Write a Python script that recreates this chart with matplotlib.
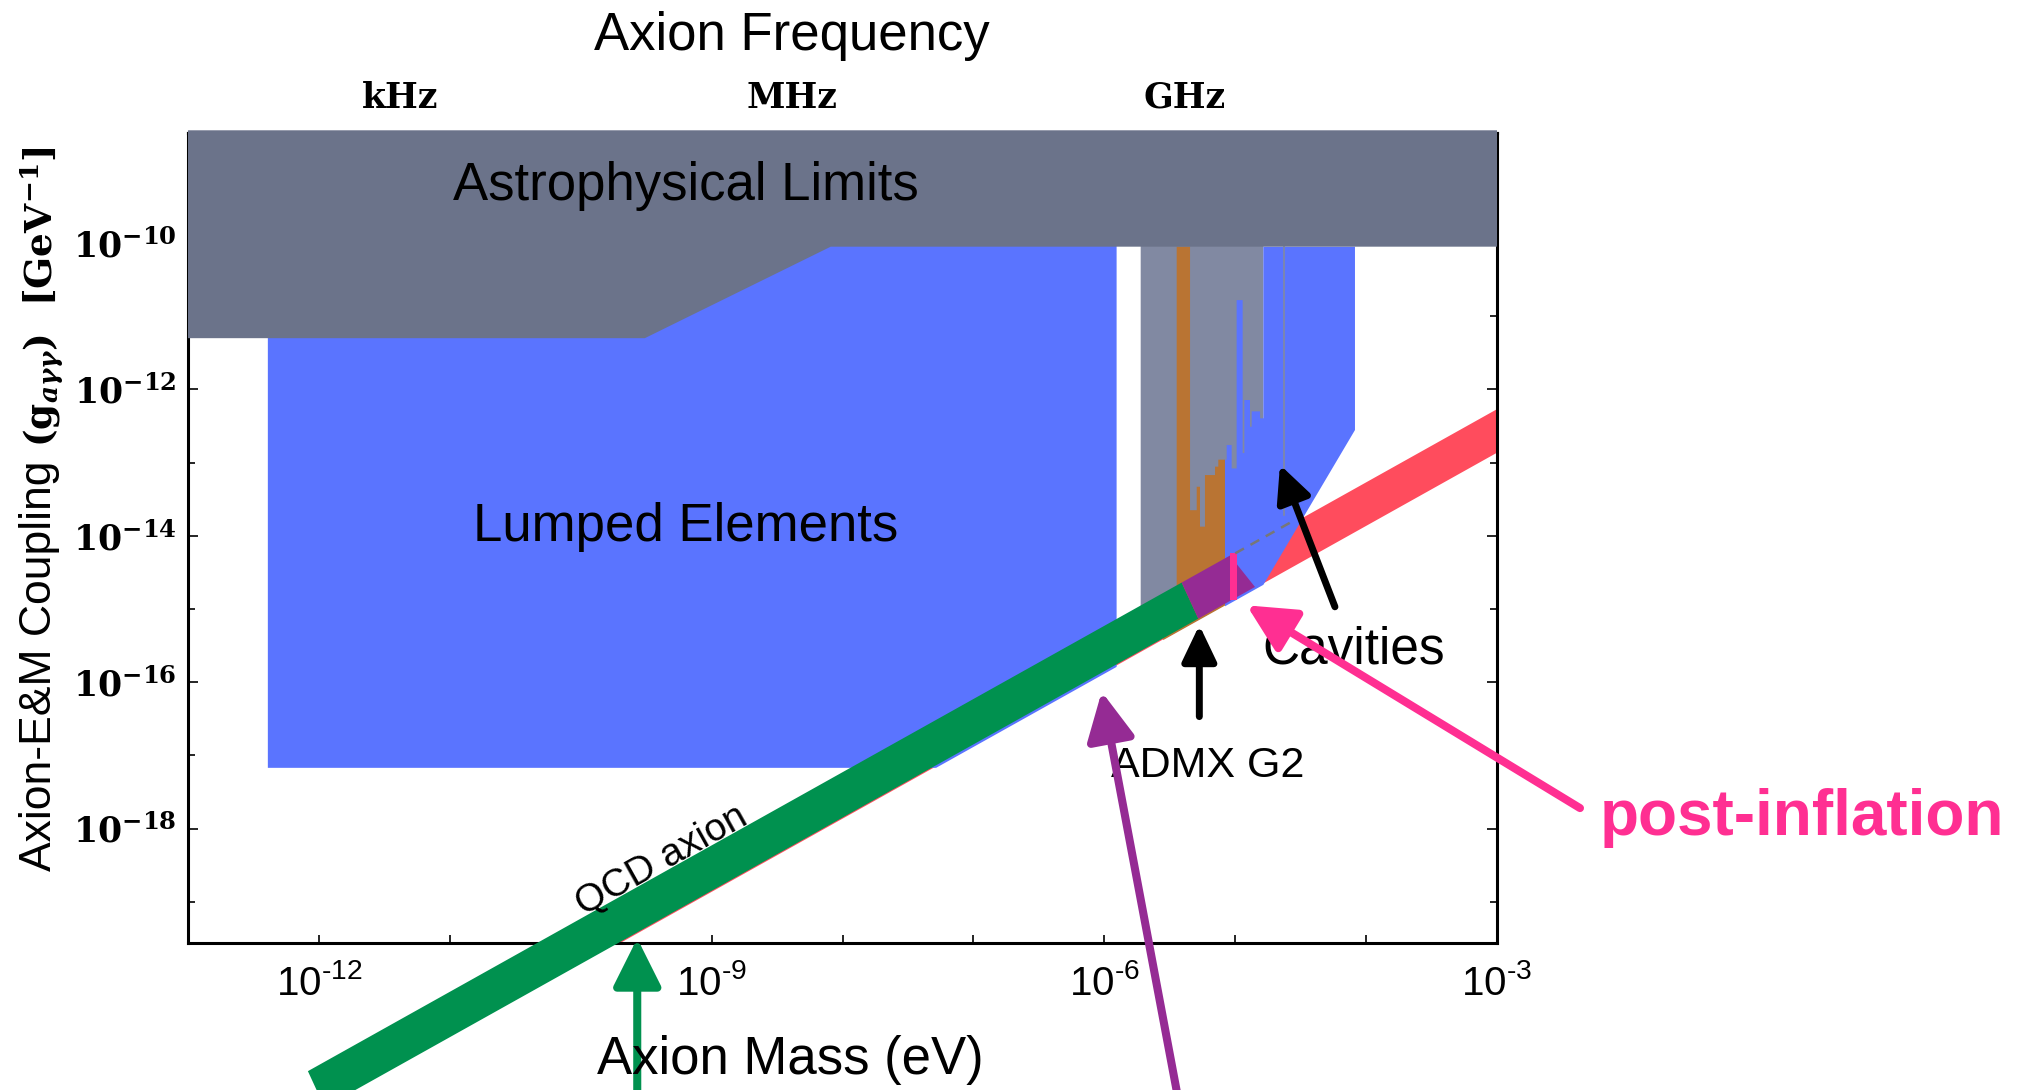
import numpy as np
import matplotlib
matplotlib.use("Agg")
import matplotlib.pyplot as plt

plt.rcParams['font.family'] = ['Liberation Sans', 'DejaVu Sans']
plt.rcParams['mathtext.fontset'] = 'custom'
plt.rcParams['mathtext.rm'] = 'Liberation Sans'
plt.rcParams['mathtext.it'] = 'DejaVu Serif:italic:bold'
plt.rcParams['mathtext.bf'] = 'DejaVu Serif:bold'

# everything below is log10 of mass (eV) / coupling (GeV^-1)
x_lim = (-13.0, -3.0)
y_lim = (-19.563, -8.497)

# QCD band: log g = log m + c
red_c = (-9.865, -9.27)
green_c = (-9.85, -9.23)
green_top_x = (-12.084, -5.409)
green_bot_x = (-11.957, -5.282)

astro_x = [-13.0, -9.51, -8.09, -3.0]
astro_y = [-11.30, -11.30, -10.05, -10.05]
astro_top = -8.46

lumped_x = (-12.39, -5.906)
lumped_floor = -17.17
lumped_c = -9.885

cav_gray_x = (-5.722, -4.785)

admx_edges = [-5.55, -5.447, -5.345, -5.294, -5.269, -5.231, -5.154, -5.129, -5.078]
admx_top = [-14.9, -10.05, -13.65, -13.33, -13.875, -13.17, -13.055, -12.96]

cav_edges = [-5.078, -5.065, -5.027, -4.989, -4.943, -4.930, -4.887, -4.874, -4.810, -4.785, -4.085]
cav_top = [-12.96, -12.76, -13.08, -10.78, -12.87, -12.145, -12.51, -12.30, -12.395, -10.05]
cav_knee = (-4.085, -12.555)
cav_line_x = -4.625
cav_line_y = (-10.05, -13.72)

purple_top_x = (-5.409, -5.040)
purple_bot_x = (-5.282, -4.849)
pink_x = (-5.040, -4.984)
pink_y = (-14.877, -14.24)
dash_x = (-5.0, -4.57)
dash_c = -9.24

# arrows: (tip, tail) in log coords
arrows = {
    'green': ((-9.568, -19.50), (-9.568, -21.8), '#00914f'),
    'purple': ((-6.020, -16.13), (-5.42, -21.84), '#952b94'),
    'admx': ((-5.274, -15.22), (-5.274, -16.47), 'black'),
    'cav': ((-4.658, -13.03), (-4.238, -14.97), 'black'),
    'pink': ((-4.912, -14.95), (-2.366, -17.72), '#ff2f92'),
}

astro_col = '#6b738a'
blue_col = '#5a74ff'
gray_col = '#8189a2'
orange_col = '#b97433'
red_col = '#ff4c5d'


def P(xs, ys):
    return 10.0 ** np.asarray(xs), 10.0 ** np.asarray(ys)


def steps(edges, tops):
    xs, ys = [], []
    for i, t in enumerate(tops):
        xs += [edges[i], edges[i + 1]]
        ys += [t, t]
    return xs, ys


fig = plt.figure(figsize=(20.37, 10.90), dpi=100)
ax = fig.add_axes([188 / 2037, 147 / 1090, 1309 / 2037, 810 / 1090])
ax.set_xscale('log')
ax.set_yscale('log')
ax.set_xlim(10 ** x_lim[0], 10 ** x_lim[1])
ax.set_ylim(10 ** y_lim[0], 10 ** y_lim[1])

# red band under everything
bx = np.array(x_lim)
ax.fill(*P([bx[0], bx[1], bx[1], bx[0]],
           [bx[0] + red_c[0], bx[1] + red_c[0], bx[1] + red_c[1], bx[0] + red_c[1]]),
        color=red_col, lw=0, zorder=1)

# lumped elements
knee = lumped_floor - lumped_c
ax.fill(*P([lumped_x[0], lumped_x[1], lumped_x[1], knee, lumped_x[0]],
           [-10.0, -10.0, lumped_x[1] + lumped_c, lumped_floor, lumped_floor]),
        color=blue_col, lw=0, zorder=2)

# cavities grey
ax.fill(*P([cav_gray_x[0], cav_gray_x[1], cav_gray_x[1], cav_gray_x[0]],
           [-10.0, -10.0, cav_gray_x[1] - 9.3, cav_gray_x[0] - 9.3]),
        color=gray_col, lw=0, zorder=2)

# ADMX (orange)
xs, ys = steps(admx_edges, admx_top)
xs += [admx_edges[-1], admx_edges[0]]
ys += [admx_edges[-1] - 9.875, admx_edges[0] - 9.875]
ax.fill(*P(xs, ys), color=orange_col, lw=0, zorder=3)

# other cavities (blue)
xs, ys = steps(cav_edges, cav_top)
end = cav_gray_x[1]
xs += [cav_knee[0], end, cav_edges[0]]
ys += [cav_knee[1], end + lumped_c, cav_edges[0] + lumped_c]
ax.fill(*P(xs, ys), color=blue_col, lw=0, zorder=3)
ax.plot(*P([cav_line_x, cav_line_x], cav_line_y), color=gray_col, lw=1.2, zorder=3)

# astrophysical limits
ax.fill(*P(astro_x + [astro_x[-1], astro_x[0]], astro_y + [astro_top, astro_top]),
        color=astro_col, lw=0, zorder=4, clip_on=False)

# QCD axion band (green)
ax.fill(*P([green_top_x[0], green_top_x[1], green_bot_x[1], green_bot_x[0]],
           [green_top_x[0] + green_c[1], green_top_x[1] + green_c[1],
            green_bot_x[1] + green_c[0], green_bot_x[0] + green_c[0]]),
        color='#00914f', lw=0, zorder=5, clip_on=False)

# ADMX reach (purple)
ax.fill(*P([purple_top_x[0], purple_top_x[1], purple_bot_x[1], purple_bot_x[0]],
           [purple_top_x[0] + green_c[1], purple_top_x[1] + green_c[1],
            purple_bot_x[1] + green_c[0], purple_bot_x[0] + green_c[0]]),
        color='#952b94', lw=0, zorder=5)
ax.fill(*P([pink_x[0], pink_x[1], pink_x[1], pink_x[0]],
           [pink_y[0], pink_y[0], pink_y[1], pink_y[1]]),
        color='#ff2f92', lw=0, zorder=6)
ax.plot(*P(dash_x, [dash_x[0] + dash_c, dash_x[1] + dash_c]), color='#777777',
        lw=1.8, ls=(0, (4, 3)), zorder=6)

# arrows
head_big = '-|>,head_length=2.9,head_width=1.45'
head_small = '-|>,head_length=2.2,head_width=1.05'
for name, (tip, tail, col) in arrows.items():
    hs = head_small if name in ('admx', 'cav') else head_big
    lw = 5.0 if name in ('admx', 'cav') else 5.8
    ax.annotate('', xy=P(*tip), xytext=P(*tail), xycoords='data', textcoords='data',
                annotation_clip=False,
                arrowprops=dict(arrowstyle=hs, color=col, lw=lw, shrinkA=0, shrinkB=0,
                                mutation_scale=10, clip_on=False),
                zorder=10)

# labels inside
ax.text(*P(-9.196, -9.22), 'Astrophysical Limits', fontsize=38, ha='center', va='center', zorder=7)
ax.text(*P(-9.196, -13.88), 'Lumped Elements', fontsize=38, ha='center', va='center', zorder=7)
ax.text(*P(-5.212, -17.14), 'ADMX G2', fontsize=31, ha='center', va='center', zorder=7)
ax.text(*P(-4.093, -15.56), 'Cavities', fontsize=37, ha='center', va='center', zorder=7)
p0 = ax.transData.transform(P(-10, -19.5))
p1 = ax.transData.transform(P(-8, -17.5))
ang = np.degrees(np.arctan2(p1[1] - p0[1], p1[0] - p0[0]))
ax.text(*P(-9.379, -18.44), 'QCD axion', fontsize=28, rotation=ang,
        rotation_mode='anchor', ha='center', va='center', zorder=7)

# ticks
xt = [10.0 ** k for k in range(-12, -2)]
xl = [r'$\mathrm{10^{\text{-}%d}}$' % -k if k % 3 == 0 else '' for k in range(-12, -2)]
ax.set_xticks(xt, xl)
ax.set_xticks([], minor=True)
yt = [10.0 ** k for k in range(-18, -9, 2)]
ax.set_yticks(yt, [r'$\mathbf{10^{%d}}$' % k for k in range(-18, -9, 2)])
ax.set_yticks([10.0 ** k for k in range(-19, -8, 2)], [''] * 6, minor=True)
ax.tick_params(axis='x', which='major', direction='in', length=6, width=1.2,
               labelsize=29, pad=15, top=False)
ax.tick_params(axis='y', which='major', direction='in', length=7, width=1.2,
               labelsize=25, pad=8, right=True)
ax.tick_params(axis='y', which='minor', direction='in', length=5, width=1.2, right=True)
for s in ax.spines.values():
    s.set_linewidth(2.2)

h = 4.135667696e-15
sec = ax.secondary_xaxis('top', functions=(lambda m: m / h, lambda f: f * h))
freq_ticks = [10.0 ** k for k in range(2, 12)]
freq_labels = ['', 'kHz', '', '', 'MHz', '', '', 'GHz', '', '']
sec.set_ticks(freq_ticks, freq_labels, fontfamily='DejaVu Serif', fontweight='bold')
sec.xaxis.set_minor_locator(matplotlib.ticker.NullLocator())
sec.tick_params(direction='in', length=4.2, width=1.2, labelsize=25, pad=13)
sec.spines['top'].set_linewidth(2.2)

# outer texts
fig.text(0.3888, 0.967, 'Axion Frequency', fontsize=38, ha='center', va='center')
fig.text(0.3878, 0.0275, 'Axion Mass (eV)', fontsize=38, ha='center', va='center', zorder=1)
fig.text(0.0196, 0.389, 'Axion-E&M Coupling', fontsize=32, rotation=90, ha='center', va='center')
fig.text(0.0206, 0.728, r'$\mathbf{(g}_{a\gamma\gamma}\mathbf{)\ \ [GeV^{-1}]}$', fontsize=27,
         rotation=90, ha='center', va='center')
fig.text(0.8846, 0.2495, 'post-inflation', fontsize=46, fontweight='bold', color='#ff2f92',
         ha='center', va='center')

fig.savefig('out.png', dpi=100)
